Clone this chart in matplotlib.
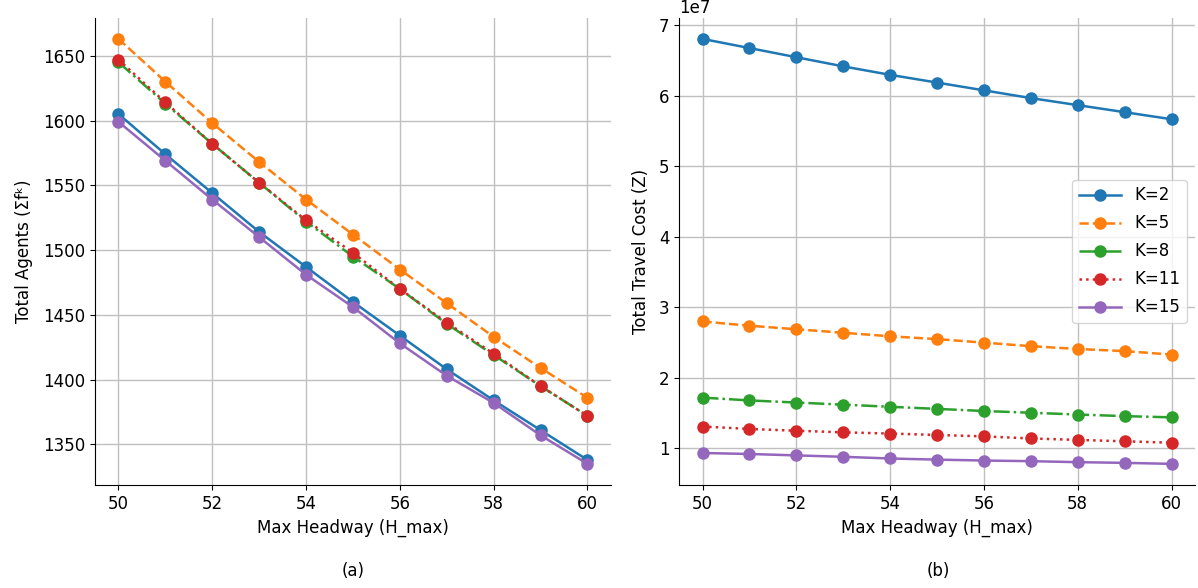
import numpy as np
import matplotlib
matplotlib.use("Agg")
import matplotlib.pyplot as plt

plt.rcParams['font.size'] = 12

h_max = [50, 51, 52, 53, 54, 55, 56, 57, 58, 59, 60]
k_labels = ["K=2", "K=5", "K=8", "K=11", "K=15"]

# total agents per K
agents_k2 = [1605, 1574, 1544, 1514, 1487, 1460, 1434, 1408, 1384, 1361, 1338]
agents_k5 = [1663, 1630, 1598, 1568, 1539, 1512, 1485, 1459, 1433, 1409, 1386]
agents_k8 = [1645, 1613, 1582, 1552, 1522, 1495, 1470, 1443, 1419, 1395, 1372]
agents_k11 = [1647, 1614, 1582, 1552, 1523, 1498, 1470, 1444, 1420, 1395, 1372]
agents_k15 = [1599, 1569, 1539, 1510, 1481, 1456, 1428, 1403, 1382, 1357, 1335]

# total travel cost per K (x 1e7)
cost_k2 = [6.81, 6.68, 6.55, 6.42, 6.30, 6.19, 6.08, 5.97, 5.87, 5.77, 5.67]
cost_k5 = [2.80, 2.74, 2.69, 2.64, 2.59, 2.55, 2.50, 2.45, 2.41, 2.38, 2.33]
cost_k8 = [1.72, 1.68, 1.65, 1.62, 1.59, 1.56, 1.53, 1.505, 1.48, 1.457, 1.44]
cost_k11 = [1.31, 1.275, 1.25, 1.227, 1.21, 1.19, 1.17, 1.14, 1.12, 1.10, 1.08]
cost_k15 = [0.934, 0.92, 0.90, 0.88, 0.856, 0.84, 0.827, 0.818, 0.804, 0.794, 0.78]

agents = [agents_k2, agents_k5, agents_k8, agents_k11, agents_k15]
costs = [cost_k2, cost_k5, cost_k8, cost_k11, cost_k15]

colors = ["#1f77b4", "#ff7f0e", "#2ca02c", "#d62728", "#9467bd"]
styles = ["-", "--", "-.", ":", "-"]

fig, (ax1, ax2) = plt.subplots(1, 2, figsize=(11.98, 5.88), dpi=100)
fig.subplots_adjust(left=0.0793, right=0.9975, top=0.97, bottom=0.175, wspace=0.132)

for vals, c, ls, lab in zip(agents, colors, styles, k_labels):
    ax1.plot(h_max, vals, color=c, linestyle=ls, marker="o", markersize=8,
             linewidth=1.8, label=lab)
for vals, c, ls, lab in zip(costs, colors, styles, k_labels):
    ax2.plot(h_max, np.array(vals) * 1e7, color=c, linestyle=ls, marker="o",
             markersize=8, linewidth=1.8, label=lab)

ax1.set_xlabel("Max Headway (H_max)")
ax1.set_ylabel("Total Agents (Σfᵏ)", labelpad=7)
ax2.set_xlabel("Max Headway (H_max)")
ax2.set_ylabel("Total Travel Cost (Z)", labelpad=6)

for ax in (ax1, ax2):
    ax.set_xticks([50, 52, 54, 56, 58, 60])
    ax.grid(True, color="#c0c0c0", linewidth=1)
    ax.spines["top"].set_visible(False)
    ax.spines["right"].set_visible(False)

ax2.legend(loc="center right", handlelength=2.5, labelspacing=0.6)

fig.text(0.295, 0.02, "(a)", ha="center", fontsize=12)
fig.text(0.783, 0.02, "(b)", ha="center", fontsize=12)

fig.savefig("out.png", dpi=100)
